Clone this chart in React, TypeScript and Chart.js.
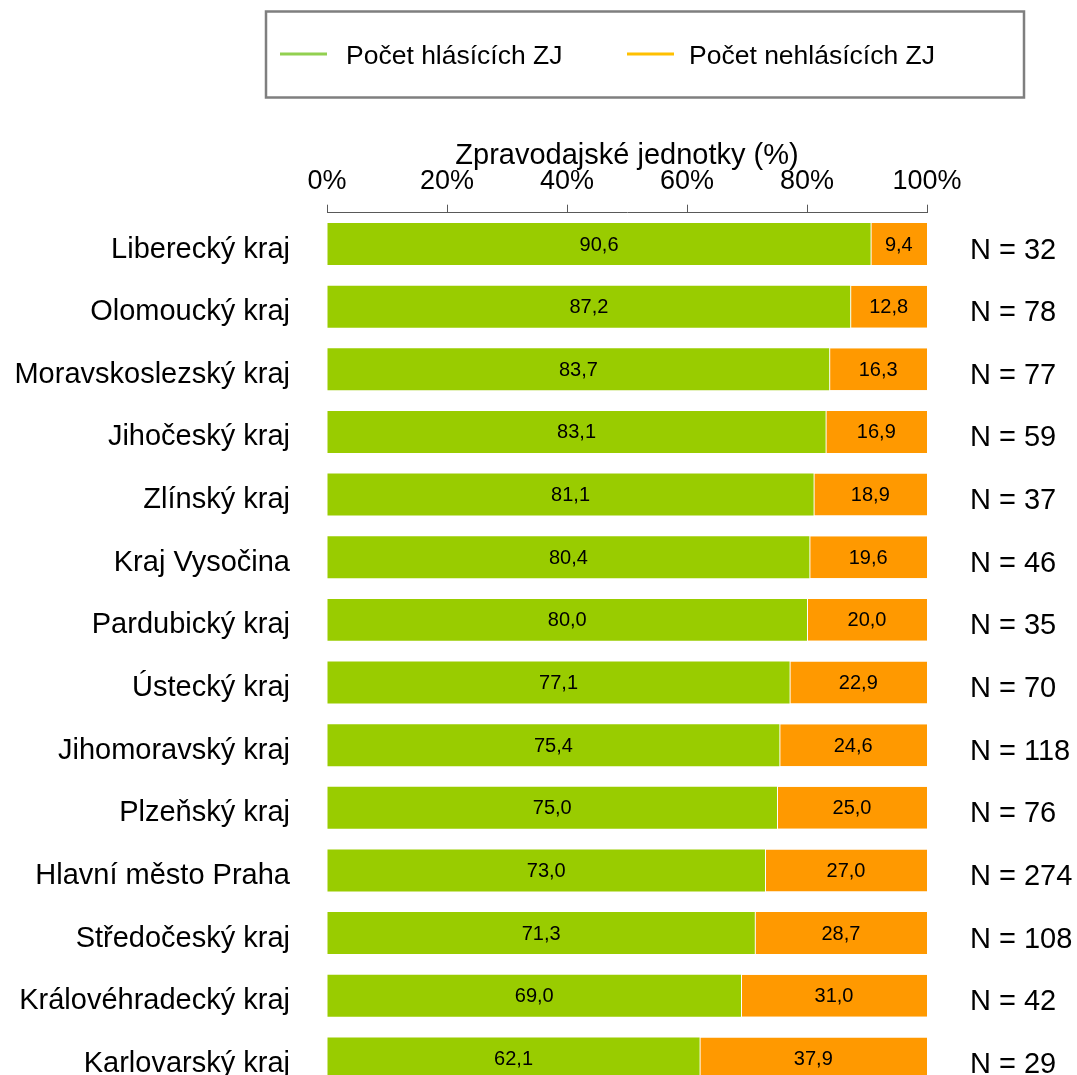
import React, { useEffect, useRef } from "react";
import { Chart, registerables } from "chart.js";

Chart.register(...registerables);

const categories = [
  "Liberecký kraj",
  "Olomoucký kraj",
  "Moravskoslezský kraj",
  "Jihočeský kraj",
  "Zlínský kraj",
  "Kraj Vysočina",
  "Pardubický kraj",
  "Ústecký kraj",
  "Jihomoravský kraj",
  "Plzeňský kraj",
  "Hlavní město Praha",
  "Středočeský kraj",
  "Královéhradecký kraj",
  "Karlovarský kraj",
];
const reporting = [90.6, 87.2, 83.7, 83.1, 81.1, 80.4, 80.0, 77.1, 75.4, 75.0, 73.0, 71.3, 69.0, 62.1];
const nonReporting = [9.4, 12.8, 16.3, 16.9, 18.9, 19.6, 20.0, 22.9, 24.6, 25.0, 27.0, 28.7, 31.0, 37.9];
const counts = [32, 78, 77, 59, 37, 46, 35, 70, 118, 76, 274, 108, 42, 29];
const seriesNames = ["Počet hlásících ZJ", "Počet nehlásících ZJ"];
const axisTitle = "Zpravodajské jednotky (%)";

const FONT = "'Liberation Sans', Arial, sans-serif";

const overlayPlugin = {
  id: "overlay",
  afterDatasetsDraw(chart: any) {
    const ctx = chart.ctx;
    const yScale = chart.scales.y;
    ctx.save();
    // value labels
    ctx.font = `20px ${FONT}`;
    ctx.fillStyle = "#000";
    ctx.textAlign = "center";
    ctx.textBaseline = "middle";
    chart.data.datasets.forEach((ds: any, di: number) => {
      const meta = chart.getDatasetMeta(di);
      meta.data.forEach((bar: any, i: number) => {
        const left = Math.min(bar.x, bar.base);
        const right = Math.max(bar.x, bar.base);
        ctx.fillText(ds.data[i].toFixed(1).replace(".", ","), (left + right) / 2, bar.y + 1);
      });
    });
    // N labels
    ctx.font = `29px ${FONT}`;
    ctx.textAlign = "left";
    counts.forEach((n, i) => {
      ctx.fillText(`N = ${n}`, chart.chartArea.right + 43, yScale.getPixelForValue(i) + 6.5);
    });
    // legend box
    ctx.strokeStyle = "#7f7f7f";
    ctx.lineWidth = 2.5;
    ctx.strokeRect(266, 11.5, 758, 86);
    const items = [
      { color: "#92D050", x1: 280, x2: 327, tx: 346 },
      { color: "#FFC000", x1: 627, x2: 674, tx: 689 },
    ];
    ctx.font = `26.5px ${FONT}`;
    ctx.textBaseline = "middle";
    items.forEach((it, k) => {
      ctx.strokeStyle = it.color;
      ctx.lineWidth = 3;
      ctx.beginPath();
      ctx.moveTo(it.x1, 54);
      ctx.lineTo(it.x2, 54);
      ctx.stroke();
      ctx.fillStyle = "#000";
      ctx.fillText(seriesNames[k], it.tx, 56.5);
    });
    ctx.restore();
  },
};

export default function App() {
  const ref = useRef<HTMLCanvasElement>(null);
  useEffect(() => {
    if (!ref.current) return;
    const chart = new Chart(ref.current, {
      type: "bar",
      data: {
        labels: categories,
        datasets: [
          {
            label: seriesNames[0],
            data: reporting,
            backgroundColor: "#99CC00",
            barPercentage: 0.67,
            categoryPercentage: 1,
          },
          {
            label: seriesNames[1],
            data: nonReporting,
            backgroundColor: "#FF9900",
            borderColor: "rgba(255,255,255,0.5)",
            borderWidth: { left: 1, top: 0, right: 0, bottom: 0 },
            borderSkipped: false,
            barPercentage: 0.67,
            categoryPercentage: 1,
          },
        ],
      },
      options: {
        indexAxis: "y",
        animation: false,
        responsive: false,
        maintainAspectRatio: false,
        layout: { padding: { left: 0, right: 150, top: 0, bottom: 10.3 } },
        plugins: { legend: { display: false }, tooltip: { enabled: false } },
        scales: {
          x: {
            position: "top",
            stacked: true,
            min: 0,
            max: 100,
            afterFit: (s: any) => {
              s.height = 212.7;
            },
            ticks: {
              stepSize: 20,
              callback: (v: any) => `${v}%`,
              font: { family: FONT, size: 27 },
              color: "#000",
              padding: 7,
            },
            grid: {
              drawOnChartArea: false,
              tickLength: 8,
              color: "#595959",
            },
            border: { display: true, color: "#595959", width: 1 },
            title: {
              display: true,
              text: axisTitle,
              font: { family: FONT, size: 29 },
              color: "#000",
              padding: { top: 139, bottom: 0 },
            },
          },
          y: {
            stacked: true,
            afterFit: (s: any) => {
              s.width = 327;
              s.paddingTop = 0;
              s.paddingBottom = 0;
            },
            ticks: {
              font: { family: FONT, size: 29 },
              color: "#000",
              padding: 29,
              labelOffset: 5.5,
              autoSkip: false,
            },
            grid: { display: false },
            border: { display: false },
          },
        },
      },
      plugins: [overlayPlugin],
    });
    return () => chart.destroy();
  }, []);
  return (
    <div
      style={{
        position: "absolute",
        left: 0,
        top: 0,
        width: 1077,
        height: 1075,
        overflow: "hidden",
        background: "#fff",
      }}
    >
      <canvas ref={ref} width={1077} height={1100} style={{ display: "block" }} />
    </div>
  );
}
